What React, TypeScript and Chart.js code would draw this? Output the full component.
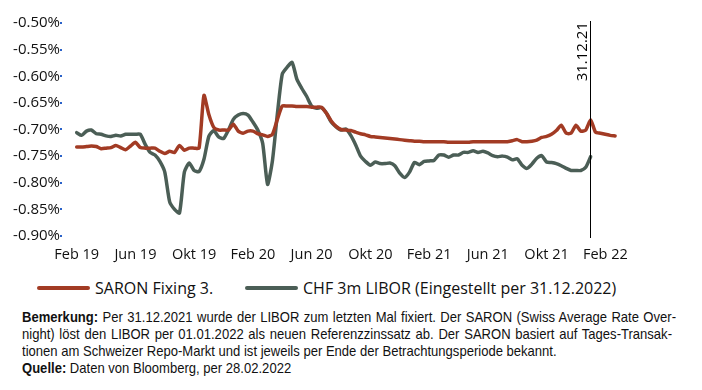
import React, { useEffect, useRef } from "react";
import { Chart, registerables } from "chart.js";

Chart.register(...registerables);

// x positions are months since Feb 2019 (one point every 1/3 month)
const stepMonths = 1 / 3;
const xTickMonths = [0, 4, 8, 12, 16, 20, 24, 28, 32, 36];
const xTickLabels = ["Feb 19", "Jun 19", "Okt 19", "Feb 20", "Jun 20", "Okt 20", "Feb 21", "Jun 21", "Okt 21", "Feb 22"];
const yTickValues = [-0.9, -0.85, -0.8, -0.75, -0.7, -0.65, -0.6, -0.55, -0.5];

const saronLabel = "SARON Fixing 3.";
const liborLabel = "CHF 3m LIBOR (Eingestellt per 31.12.2022)";
const markerMonth = 34.97;
const markerLabel = "31.12.21";

const saronValues = [
  -0.733, -0.733, -0.732, -0.731, -0.732, -0.736, -0.735, -0.734, -0.730, -0.734,
  -0.738, -0.731, -0.724, -0.734, -0.735, -0.735, -0.735, -0.741, -0.745, -0.741,
  -0.743, -0.730, -0.739, -0.735, -0.735, -0.735, -0.636, -0.672, -0.696, -0.701,
  -0.701, -0.701, -0.690, -0.703, -0.707, -0.703, -0.703, -0.708, -0.710, -0.713,
  -0.709, -0.681, -0.656, -0.656, -0.656, -0.657, -0.657, -0.657, -0.658, -0.658,
  -0.658, -0.669, -0.684, -0.694, -0.700, -0.701, -0.702, -0.705, -0.708, -0.710,
  -0.713, -0.714, -0.715, -0.716, -0.717, -0.718, -0.719, -0.720, -0.721, -0.722,
  -0.722, -0.723, -0.723, -0.723, -0.723, -0.723, -0.724, -0.724, -0.724, -0.724,
  -0.724, -0.723, -0.723, -0.723, -0.723, -0.723, -0.723, -0.723, -0.723, -0.721,
  -0.719, -0.723, -0.723, -0.722, -0.720, -0.715, -0.713, -0.709, -0.702, -0.692,
  -0.707, -0.707, -0.692, -0.703, -0.701, -0.682, -0.705, -0.707, -0.709, -0.711,
  -0.712,
];

const liborValues = [
  -0.706, -0.711, -0.703, -0.701, -0.708, -0.709, -0.712, -0.713, -0.711, -0.712,
  -0.709, -0.709, -0.709, -0.709, -0.728, -0.743, -0.748, -0.760, -0.780, -0.836,
  -0.850, -0.857, -0.780, -0.763, -0.777, -0.779, -0.756, -0.713, -0.702, -0.714,
  -0.717, -0.701, -0.681, -0.673, -0.670, -0.673, -0.686, -0.701, -0.726, -0.803,
  -0.758, -0.671, -0.596, -0.583, -0.574, -0.606, -0.623, -0.638, -0.656, -0.660,
  -0.659, -0.669, -0.686, -0.695, -0.701, -0.699, -0.711, -0.729, -0.750, -0.760,
  -0.767, -0.761, -0.764, -0.764, -0.763, -0.768, -0.782, -0.790, -0.780, -0.762,
  -0.766, -0.760, -0.759, -0.758, -0.748, -0.748, -0.752, -0.748, -0.748, -0.743,
  -0.743, -0.740, -0.743, -0.741, -0.744, -0.749, -0.751, -0.750, -0.752, -0.757,
  -0.755, -0.767, -0.773, -0.765, -0.754, -0.749, -0.761, -0.762, -0.764, -0.768,
  -0.773, -0.777, -0.777, -0.777, -0.771, -0.751,
];

const SARON_COLOR = "#A23B24";
const LIBOR_COLOR = "#4B5E56";
const FONT = "'Open Sans', 'Noto Sans', sans-serif";

const markerPlugin = {
  id: "markerLine",
  afterDatasetsDraw(chart: any) {
    const { ctx, chartArea, scales } = chart;
    const px = Math.round(scales.x.getPixelForValue(markerMonth)) + 0.5;
    ctx.save();
    ctx.strokeStyle = "#000";
    ctx.lineWidth = 1;
    ctx.beginPath();
    ctx.moveTo(px, chartArea.top - 2);
    ctx.lineTo(px, chartArea.bottom + 2);
    ctx.stroke();
    ctx.translate(px - 4, chartArea.top - 1);
    ctx.rotate(-Math.PI / 2);
    ctx.font = `15px ${FONT}`;
    ctx.fillStyle = "#000";
    ctx.textAlign = "right";
    ctx.textBaseline = "alphabetic";
    ctx.fillText(markerLabel, 0, 0);
    ctx.restore();
  },
};

function ChartCanvas() {
  const ref = useRef<HTMLCanvasElement | null>(null);
  useEffect(() => {
    if (!ref.current) return;
    const chart = new Chart(ref.current, {
      type: "line",
      data: {
        datasets: [
          {
            label: saronLabel,
            data: saronValues.map((v, i) => ({ x: i * stepMonths, y: v })),
            borderColor: SARON_COLOR,
            borderWidth: 3.5,
            pointRadius: 0,
            tension: 0.2,
            borderJoinStyle: "round",
            borderCapStyle: "round",
          },
          {
            label: liborLabel,
            data: liborValues.map((v, i) => ({ x: i * stepMonths, y: v })),
            borderColor: LIBOR_COLOR,
            borderWidth: 3.5,
            pointRadius: 0,
            tension: 0.2,
            borderJoinStyle: "round",
            borderCapStyle: "round",
          },
        ],
      },
      options: {
        animation: false,
        responsive: false,
        maintainAspectRatio: false,
        layout: { padding: { top: 23, right: 82, left: 0, bottom: 0 } },
        plugins: { legend: { display: false }, tooltip: { enabled: false } },
        scales: {
          x: {
            type: "linear",
            min: -1,
            max: 37,
            afterBuildTicks: (s: any) => {
              s.ticks = xTickMonths.map((v) => ({ value: v }));
            },
            afterFit: (s: any) => {
              s.height = 34;
            },
            grid: { display: false, drawTicks: false },
            border: { display: false },
            ticks: {
              autoSkip: false,
              maxRotation: 0,
              padding: 10,
              color: "#111",
              font: { family: FONT, size: 14.5 },
              callback: (v: any) => {
                const k = xTickMonths.indexOf(Number(v));
                return k >= 0 ? xTickLabels[k] : "";
              },
            },
          },
          y: {
            type: "linear",
            min: -0.9,
            max: -0.5,
            afterBuildTicks: (s: any) => {
              s.ticks = yTickValues.map((v) => ({ value: v }));
            },
            afterFit: (s: any) => {
              s.width = 62;
            },
            grid: {
              display: true,
              drawOnChartArea: false,
              drawTicks: true,
              tickLength: 2,
              tickColor: "#2a62c9",
              lineWidth: 2,
            },
            border: { display: false },
            ticks: {
              padding: 0,
              color: "#111",
              font: { family: FONT, size: 15 },
              callback: (v: any) => Number(v).toFixed(2) + "%",
            },
          },
        },
      },
      plugins: [markerPlugin],
    } as any);
    return () => chart.destroy();
  }, []);
  return (
    <canvas
      ref={ref}
      width={702}
      height={270}
      style={{ position: "absolute", left: 0, top: 0, width: 702, height: 270 }}
    />
  );
}

const NOTE_FONT = "'Liberation Sans', Arial, sans-serif";
const NOTE_SCALE = 0.87;
const NOTE_WIDTH = 654;

export default function App() {
  const legendText: React.CSSProperties = {
    position: "absolute",
    top: 277,
    fontFamily: FONT,
    fontSize: 16,
    lineHeight: "22px",
    color: "#111",
    whiteSpace: "nowrap",
  };
  const noteLine: React.CSSProperties = {
    width: NOTE_WIDTH / NOTE_SCALE,
    whiteSpace: "nowrap",
    height: 17,
    lineHeight: "17px",
  };
  const justified: React.CSSProperties = {
    ...noteLine,
    whiteSpace: "normal",
    textAlign: "justify",
    textAlignLast: "justify" as any,
  };
  return (
    <div
      style={{
        position: "absolute",
        left: 0,
        top: 0,
        width: 702,
        height: 390,
        background: "#fff",
        overflow: "hidden",
      }}
    >
      <ChartCanvas />
      <div style={{ position: "absolute", left: 37, top: 286, width: 53, height: 4, borderRadius: 2, background: SARON_COLOR }} />
      <div style={{ ...legendText, left: 95 }}>{saronLabel}</div>
      <div style={{ position: "absolute", left: 245, top: 286, width: 53, height: 4, borderRadius: 2, background: LIBOR_COLOR }} />
      <div style={{ ...legendText, left: 303 }}>{liborLabel}</div>
      <div
        style={{
          position: "absolute",
          left: 22,
          top: 308,
          fontFamily: NOTE_FONT,
          fontSize: 15,
          color: "#111",
          transform: `scaleX(${NOTE_SCALE})`,
          transformOrigin: "left top",
        }}
      >
        <div style={justified}>
          <b>Bemerkung:</b> Per 31.12.2021 wurde der LIBOR zum letzten Mal fixiert. Der SARON (Swiss Average Rate Over-
        </div>
        <div style={{ ...justified, width: 650 / NOTE_SCALE }}>
          night) löst den LIBOR per 01.01.2022 als neuen Referenzzinssatz ab. Der SARON basiert auf Tages-Transak-
        </div>
        <div style={noteLine}>
          tionen am Schweizer Repo-Markt und ist jeweils per Ende der Betrachtungsperiode bekannt.
        </div>
        <div style={noteLine}>
          <b>Quelle:</b> Daten von Bloomberg, per 28.02.2022
        </div>
      </div>
    </div>
  );
}
